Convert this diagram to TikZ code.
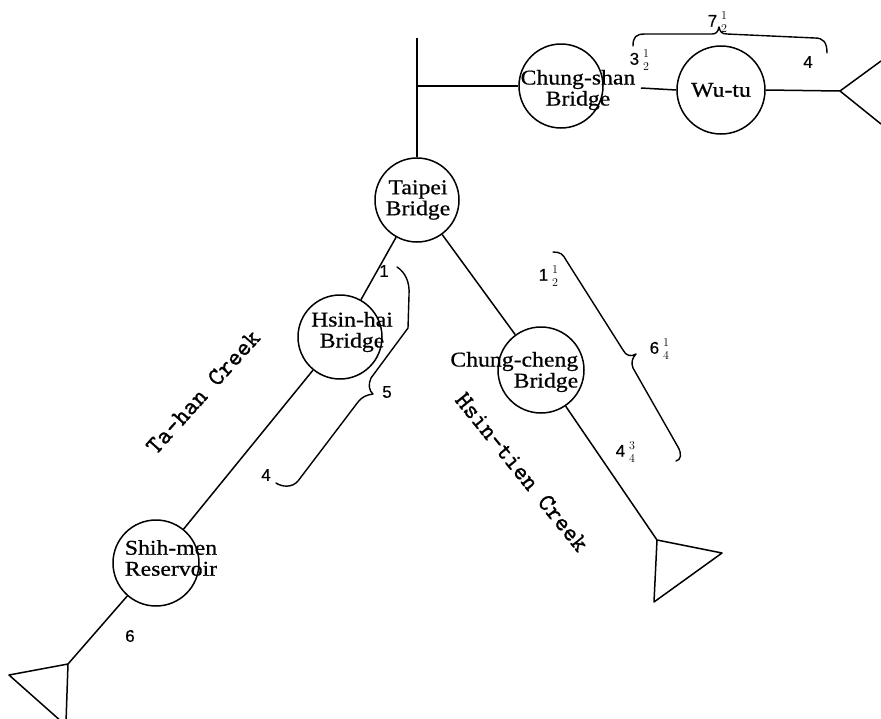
\documentclass[tikz,border=0pt]{standalone}
\usepackage{amsmath}
\usepackage{fontspec}
\setmainfont[FakeStretch=1.13,FakeBold=0.6]{Liberation Serif}
\newfontfamily\numfont[FakeBold=0.4]{Liberation Sans}
\newfontfamily\creekfont[FakeBold=1.0]{lmmono10-regular.otf}
\newcommand\hf[2]{\ensuremath{\genfrac{}{}{0pt}{1}{#1}{#2}}}
\begin{document}
\begin{tikzpicture}[x=1pt,y=-1pt,line width=1.5pt,
  circ/.style={draw,circle,inner sep=0pt,minimum size=#1},
  lbl/.style={inner sep=0pt,align=center,font=\fontsize{21}{21}\selectfont},
  num/.style={inner sep=0pt,font=\numfont\fontsize{17}{18}\selectfont},
  creek/.style={inner sep=0pt,font=\creekfont\fontsize{25}{26}\selectfont},
  brace/.style={line width=1.4pt,line join=round,line cap=round}]
\useasboundingbox (0,0) rectangle (881,718);
\clip (0,0) rectangle (881,718);
% circles
\node[circ=84pt] (taipei) at (417,200) {};
\node[lbl] (taipeiT) at (418,200) {Taipei\\Bridge};
\node[circ=84pt] (chungshan) at (561,86) {};
\node[lbl] (chungshanT) at (578,90) {Chung-shan\\Bridge};
\node[circ=88pt] (wutu) at (721,90) {};
\node[lbl] (wutuT) at (721,90) {Wu-tu};
\node[circ=84pt] (hsinhai) at (340,337) {};
\node[lbl] (hsinhaiT) at (352,332) {Hsin-hai\\Bridge};
\node[circ=86pt] (chungcheng) at (541,370) {};
\node[lbl,anchor=east,align=right] (chungchengT) at (579,372) {Chung-cheng\\Bridge};
\node[circ=86pt] (shihmen) at (156,563) {};
\node[lbl] (shihmenT) at (171,558) {Shih-men\\Reservoir};
% coordinates
\coordinate (top) at (417,38);
\coordinate (junc) at (417,86);
\coordinate (csout) at (641,88);
\coordinate (tr1) at (840,91);
\coordinate (tr1a) at (881,61);
\coordinate (tr1b) at (881,124);
\coordinate (tr2) at (657,540);
\coordinate (tr2a) at (722,553);
\coordinate (tr2b) at (654,602);
\coordinate (tr3) at (68,664);
\coordinate (tr3a) at (9,675);
\coordinate (tr3b) at (66,722);
\coordinate (tr3c) at (62,722);
% connectors
\draw (top) -- (taipei.north);
\draw (junc) -- (chungshan.west);
\draw (csout) -- (wutu.west);
\draw (wutu.east) -- (tr1);
\draw (tr1) -- (tr1a);
\draw (tr1) -- (tr1b);
\draw (taipei) -- (hsinhai);
\draw (taipei) -- (chungcheng);
\draw (chungcheng) -- (tr2);
\draw[line join=round] (tr2) -- (tr2a) -- (tr2b) -- cycle;
\draw (hsinhai) -- (shihmen);
\draw (shihmen) -- (tr3);
\draw[line join=round] (tr3b) -- (tr3) -- (tr3a) -- (tr3c);
% braces
\draw[brace] (633,46) .. controls (633,37) and (636,34) .. (645,34) -- (712,34)
  .. controls (716,34) and (718,32) .. (719,27)
  .. controls (720,32) and (722,34) .. (727,34) -- (815,38)
  .. controls (823,38) and (827,42) .. (827,53);
\draw[brace] (397,267) .. controls (405,272) and (410,282) .. (409,295) -- (408,328)
  -- (371,378) .. controls (368,384) and (369,391) .. (373,394)
  .. controls (366,395) and (362,397) .. (358,402) -- (298,481)
  .. controls (292,488) and (282,487) .. (276,483);
\draw[brace] (553,252) .. controls (560,252) and (563,254) .. (566,260) -- (623,350)
  .. controls (626,356) and (631,357) .. (636,354)
  .. controls (632,358) and (631,363) .. (633,368) -- (678,447)
  .. controls (682,454) and (681,460) .. (676,461);
% numbers
\node[num] (n75) at (718,22) {7\,\hf{1}{2}};
\node[num] (n35) at (640,60) {3\,\hf{1}{2}};
\node[num] (n4a) at (808,62) {4};
\node[num] (n1) at (384,271) {1};
\node[num] (n5) at (387,392) {5};
\node[num] (n4b) at (266,475) {4};
\node[num] (n15) at (549,276) {1\,\hf{1}{2}};
\node[num] (n625) at (660,349) {6\,\hf{1}{4}};
\node[num] (n475) at (626,452) {4\,\hf{3}{4}};
\node[num] (n6) at (130,636) {6};
% creek names
\node[creek,rotate=48] (tahan) at (203,392) {Ta-han Creek};
\node[creek,rotate=-51] (hsintien) at (522,472) {Hsin-tien Creek};
\end{tikzpicture}
\end{document}
